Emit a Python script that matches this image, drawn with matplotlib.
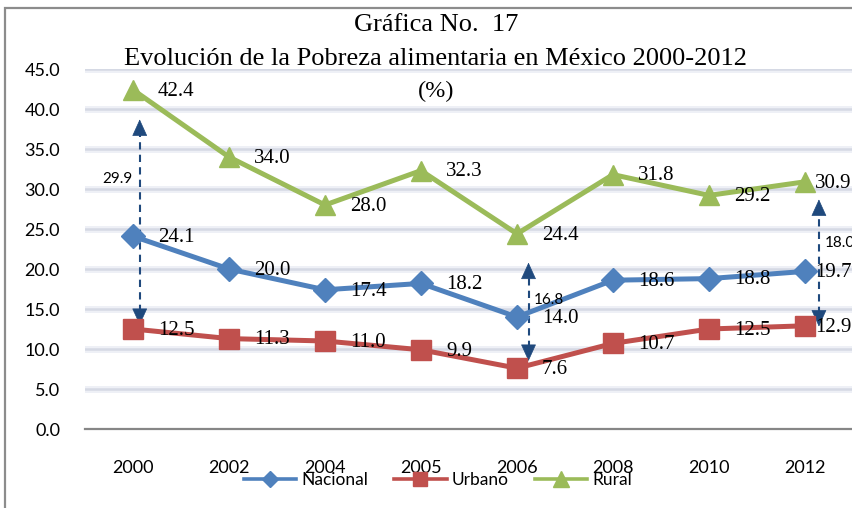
import matplotlib
matplotlib.use("Agg")
import matplotlib.pyplot as plt
from matplotlib.lines import Line2D
from matplotlib.patches import Rectangle

# ---- data ----
years = ["2000", "2002", "2004", "2005", "2006", "2008", "2010", "2012"]
nacional = [24.1, 20.0, 17.4, 18.2, 14.0, 18.6, 18.8, 19.7]
urbano = [12.5, 11.3, 11.0, 9.9, 7.6, 10.7, 12.5, 12.9]
rural = [42.4, 34.0, 28.0, 32.3, 24.4, 31.8, 29.2, 30.9]
series_names = ["Nacional", "Urbano", "Rural"]
yticks = [0, 5, 10, 15, 20, 25, 30, 35, 40, 45]

# gap annotations (rural - urbano)
gap_idx = [0, 4, 7]
gap_labels = ["29.9", "16.8", "18.0"]
gap_top = [38.7, 20.8, 28.7]
gap_bottom = [13.0, 8.5, 12.8]
gap_label_y = [31.3, 16.1, 23.2]

title1 = "Gráfica No.  17"
title2 = "Evolución de la Pobreza alimentaria en México 2000-2012"
title3 = "(%)"

# ---- style ----
c_nac = "#4F81BD"
c_urb = "#C0504D"
c_rur = "#9BBB59"
c_arrow = "#1F497D"
serif = ["Liberation Serif", "DejaVu Serif"]
sans = ["Lato", "DejaVu Sans"]

fig = plt.figure(figsize=(8.52, 5.08), dpi=100)
fig.patch.set_facecolor("white")
# outer frame (only left and top visible in reference)
fig.patches.append(Rectangle((5 / 852, -0.05), 1.2, (508 - 8) / 508 + 0.05,
                             transform=fig.transFigure, fill=False,
                             edgecolor="#8c8c8c", linewidth=1.6, zorder=0))

ax = fig.add_axes([85 / 852, 79 / 508, 768 / 852, 360 / 508])
ax.set_xlim(-0.5, 7.5)
ax.set_ylim(0, 45)
x = list(range(len(years)))

# gridlines as soft bands
for yv in yticks[1:]:
    ax.axhline(yv, color="#eef0f6", lw=5, zorder=0.5)
    ax.axhline(yv, color="#d5d9e4", lw=1.8, zorder=0.6)

for s in ["top", "right", "left"]:
    ax.spines[s].set_visible(False)
ax.spines["bottom"].set_color("#868686")
ax.spines["bottom"].set_linewidth(1.6)

ax.set_yticks(yticks)
ax.set_yticklabels([f"{v:.1f}" for v in yticks], fontfamily=sans, fontsize=13)
ax.set_xticks(x)
ax.set_xticklabels(years, fontfamily=sans, fontsize=13)
ax.tick_params(axis="both", length=0)
ax.tick_params(axis="y", pad=18)
ax.tick_params(axis="x", pad=22)

ln1, = ax.plot(x, nacional, color=c_nac, lw=3.6, marker="D", ms=12, zorder=3)
ln2, = ax.plot(x, urbano, color=c_urb, lw=3.6, marker="s", ms=14, zorder=3)
ln3, = ax.plot(x, rural, color=c_rur, lw=3.6, marker="^", ms=15, zorder=3)

for vals in (nacional, urbano, rural):
    for xi, v in zip(x, vals):
        dx = 7 if xi == len(years) - 1 else 18
        ax.annotate(f"{v:.1f}", (xi, v), xytext=(dx, -1), textcoords="offset points",
                    ha="left", va="center", fontfamily=serif, fontsize=15,
                    color="black", annotation_clip=False, zorder=4)

# dashed double arrows
offsets = {0: 0.07, 4: 0.12, 7: 0.145}
for i, lab, top, bot, ly in zip(gap_idx, gap_labels, gap_top, gap_bottom, gap_label_y):
    xa = i + offsets[i]
    ax.plot([xa, xa], [bot + 1.6, top - 1.6], color=c_arrow, lw=1.5,
            linestyle=(0, (3.5, 2.5)), zorder=2)
    for tip, start in ((top, top - 1.9), (bot, bot + 1.9)):
        ax.annotate("", xy=(xa, tip), xytext=(xa, start),
                    arrowprops=dict(arrowstyle="-|>,head_length=1.1,head_width=0.5",
                                    color=c_arrow, lw=0.5, shrinkA=0, shrinkB=0),
                    zorder=2, annotation_clip=False)
    if i == 0:
        ax.annotate(lab, (xa, ly), xytext=(-5, 0), textcoords="offset points",
                    ha="right", va="center", fontfamily=sans, fontsize=11)
    else:
        ax.annotate(lab, (xa, ly), xytext=(4, 0), textcoords="offset points",
                    ha="left", va="center", fontfamily=sans, fontsize=11,
                    annotation_clip=False)

# titles
fig.text(436 / 852, 1 - 25 / 508, title1, ha="center", va="center",
         fontfamily=serif, fontsize=19)
fig.text(436 / 852, 1 - 59 / 508, title2, ha="center", va="center",
         fontfamily=serif, fontsize=19)
fig.text(436 / 852, 1 - 91 / 508, title3, ha="center", va="center",
         fontfamily=serif, fontsize=17.5)

# legend
handles = [Line2D([], [], color=c_nac, lw=2.6, marker="D", ms=8),
           Line2D([], [], color=c_urb, lw=2.6, marker="s", ms=10),
           Line2D([], [], color=c_rur, lw=2.6, marker="^", ms=11)]
leg = fig.legend(handles, series_names, loc="center", bbox_to_anchor=(438 / 852, 1 - 480 / 508),
                 ncol=3, frameon=False, prop={"family": sans, "size": 12.5},
                 handlelength=3.0, handletextpad=0.3, columnspacing=1.5)

fig.savefig("out.png", dpi=100)
